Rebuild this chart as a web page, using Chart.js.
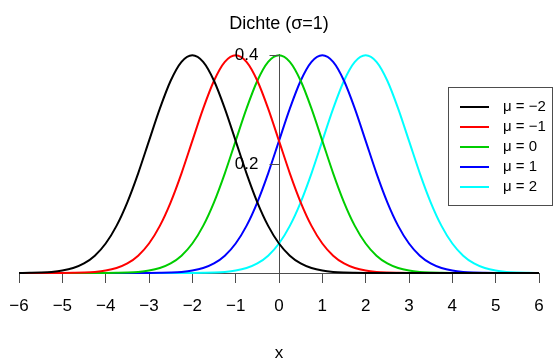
<!DOCTYPE html>
<html>
<head>
<meta charset="utf-8">
<script src="https://cdn.jsdelivr.net/npm/chart.js@4"></script>
<style>
  html, body { margin: 0; padding: 0; background: #fff; }
  #wrap { width: 555px; height: 360px; }
</style>
</head>
<body>
<div id="wrap"><canvas id="dichte"></canvas></div>
<script>
// x-Gitter von -6 bis 6 (Schritt 0.25)
const xWerte = [-6, -5.75, -5.5, -5.25, -5, -4.75, -4.5, -4.25, -4, -3.75, -3.5, -3.25, -3, -2.75, -2.5, -2.25,
  -2, -1.75, -1.5, -1.25, -1, -0.75, -0.5, -0.25, 0, 0.25, 0.5, 0.75, 1, 1.25, 1.5, 1.75,
  2, 2.25, 2.5, 2.75, 3, 3.25, 3.5, 3.75, 4, 4.25, 4.5, 4.75, 5, 5.25, 5.5, 5.75, 6];

const dichteMuM2 = [0.0001, 0.0004, 0.0009, 0.0020, 0.0044, 0.0091, 0.0175, 0.0317, 0.0540, 0.0863, 0.1295, 0.1826,
  0.2420, 0.3011, 0.3521, 0.3867, 0.3989, 0.3867, 0.3521, 0.3011, 0.2420, 0.1826, 0.1295, 0.0863,
  0.0540, 0.0317, 0.0175, 0.0091, 0.0044, 0.0020, 0.0009, 0.0004, 0.0001,
  0, 0, 0, 0, 0, 0, 0, 0, 0, 0, 0, 0, 0, 0, 0, 0];
const dichteMuM1 = [0, 0, 0, 0,
  0.0001, 0.0004, 0.0009, 0.0020, 0.0044, 0.0091, 0.0175, 0.0317, 0.0540, 0.0863, 0.1295, 0.1826,
  0.2420, 0.3011, 0.3521, 0.3867, 0.3989, 0.3867, 0.3521, 0.3011, 0.2420, 0.1826, 0.1295, 0.0863,
  0.0540, 0.0317, 0.0175, 0.0091, 0.0044, 0.0020, 0.0009, 0.0004, 0.0001,
  0, 0, 0, 0, 0, 0, 0, 0, 0, 0, 0, 0];
const dichteMu0 = [0, 0, 0, 0, 0, 0, 0, 0,
  0.0001, 0.0004, 0.0009, 0.0020, 0.0044, 0.0091, 0.0175, 0.0317, 0.0540, 0.0863, 0.1295, 0.1826,
  0.2420, 0.3011, 0.3521, 0.3867, 0.3989, 0.3867, 0.3521, 0.3011, 0.2420, 0.1826, 0.1295, 0.0863,
  0.0540, 0.0317, 0.0175, 0.0091, 0.0044, 0.0020, 0.0009, 0.0004, 0.0001,
  0, 0, 0, 0, 0, 0, 0, 0];
const dichteMu1 = [0, 0, 0, 0, 0, 0, 0, 0, 0, 0, 0, 0,
  0.0001, 0.0004, 0.0009, 0.0020, 0.0044, 0.0091, 0.0175, 0.0317, 0.0540, 0.0863, 0.1295, 0.1826,
  0.2420, 0.3011, 0.3521, 0.3867, 0.3989, 0.3867, 0.3521, 0.3011, 0.2420, 0.1826, 0.1295, 0.0863,
  0.0540, 0.0317, 0.0175, 0.0091, 0.0044, 0.0020, 0.0009, 0.0004, 0.0001,
  0, 0, 0, 0];
const dichteMu2 = [0, 0, 0, 0, 0, 0, 0, 0, 0, 0, 0, 0, 0, 0, 0, 0,
  0.0001, 0.0004, 0.0009, 0.0020, 0.0044, 0.0091, 0.0175, 0.0317, 0.0540, 0.0863, 0.1295, 0.1826,
  0.2420, 0.3011, 0.3521, 0.3867, 0.3989, 0.3867, 0.3521, 0.3011, 0.2420, 0.1826, 0.1295, 0.0863,
  0.0540, 0.0317, 0.0175, 0.0091, 0.0044, 0.0020, 0.0009, 0.0004, 0.0001];

const legendeTexte = ['\u03bc = \u22122', '\u03bc = \u22121', '\u03bc = 0', '\u03bc = 1', '\u03bc = 2'];
const farben = ['#000000', '#ff0000', '#00cd00', '#0000ff', '#00ffff'];
const yTicks = [0, 0.2, 0.4];

const schrift = "'Liberation Sans', Arial, sans-serif";
const achsenFarbe = '#4d4d4d';

function punkte(werte) {
  return xWerte.map((x, i) => ({ x: x, y: werte[i] }));
}

const reihen = [dichteMuM2, dichteMuM1, dichteMu0, dichteMu1, dichteMu2];

// y-Achse sitzt bei x = 0: Striche nach links, Beschriftung links davon
const yAchseBeiNull = {
  id: 'yAchseBeiNull',
  afterDatasetsDraw(chart) {
    const ctx = chart.ctx;
    const x0 = Math.round(chart.scales.x.getPixelForValue(0)) + 0.5;
    ctx.save();
    ctx.strokeStyle = achsenFarbe;
    ctx.lineWidth = 1;
    ctx.font = '17px ' + schrift;
    ctx.fillStyle = '#000';
    ctx.textAlign = 'right';
    ctx.textBaseline = 'middle';
    yTicks.forEach(v => {
      const y = Math.round(chart.scales.y.getPixelForValue(v)) + 0.5;
      ctx.beginPath();
      ctx.moveTo(x0 - 10, y);
      ctx.lineTo(x0, y);
      ctx.stroke();
      if (v !== 0) ctx.fillText(v.toFixed(1), x0 - 21, y);
    });
    ctx.restore();
  }
};

// Legende mit Rahmen rechts im Plot
const kastenLegende = {
  id: 'kastenLegende',
  afterDraw(chart) {
    const ctx = chart.ctx;
    ctx.save();
    ctx.strokeStyle = achsenFarbe;
    ctx.lineWidth = 1;
    ctx.strokeRect(448.5, 87.5, 104, 118);
    ctx.font = '15px ' + schrift;
    ctx.textBaseline = 'middle';
    ctx.fillStyle = '#000';
    chart.data.datasets.forEach((ds, i) => {
      const y = 107 + i * 20;
      ctx.strokeStyle = ds.borderColor;
      ctx.lineWidth = 2;
      ctx.beginPath();
      ctx.moveTo(460, y);
      ctx.lineTo(489, y);
      ctx.stroke();
      ctx.fillText(ds.label, 503, y);
    });
    ctx.restore();
  }
};

new Chart(document.getElementById('dichte'), {
  type: 'line',
  data: {
    datasets: reihen.map((werte, i) => ({
      label: legendeTexte[i],
      data: punkte(werte),
      borderColor: farben[i],
      borderWidth: 2,
      pointRadius: 0,
      cubicInterpolationMode: 'monotone',
      fill: false,
      clip: 6
    }))
  },
  options: {
    responsive: true,
    maintainAspectRatio: false,
    animation: false,
    layout: { padding: { left: 19, right: 16, top: 13, bottom: 0 } },
    plugins: {
      legend: { display: false },
      tooltip: { enabled: false },
      title: {
        display: true,
        text: 'Dichte (\u03c3=1)',
        color: '#000',
        font: { family: schrift, size: 18, weight: 'normal' },
        padding: { top: 0, bottom: 20 }
      }
    },
    scales: {
      x: {
        type: 'linear',
        min: -6,
        max: 6,
        afterFit: scale => { scale.height = 87; scale.paddingLeft = 0; scale.paddingRight = 0; },
        border: { display: true, color: achsenFarbe, width: 1 },
        grid: { drawOnChartArea: false, drawTicks: true, tickLength: 10, color: achsenFarbe },
        ticks: {
          stepSize: 1,
          color: '#000',
          padding: 13,
          maxRotation: 0,
          font: { family: schrift, size: 17 },
          callback: v => v < 0 ? '\u2212' + Math.abs(v) : String(v)
        },
        title: {
          display: true,
          text: 'x',
          color: '#000',
          font: { family: schrift, size: 17, lineHeight: 0.8 },
          padding: { top: 18, bottom: 0 }
        }
      },
      y: {
        type: 'linear',
        position: { x: 0 },
        min: 0,
        max: 0.4,
        afterBuildTicks: axis => { axis.ticks = yTicks.map(v => ({ value: v })); },
        border: { display: true, color: achsenFarbe, width: 1 },
        grid: { display: false },
        ticks: { display: false }
      }
    }
  },
  plugins: [yAchseBeiNull, kastenLegende]
});
</script>
</body>
</html>
